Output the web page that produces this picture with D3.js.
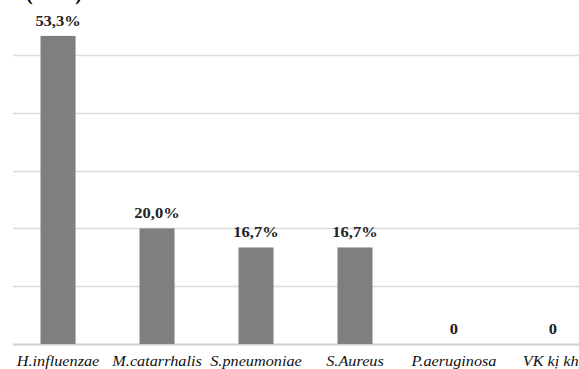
<!DOCTYPE html>
<html><head><meta charset="utf-8">
<script src="https://cdn.jsdelivr.net/npm/d3@7"></script>
<style>
html,body{margin:0;padding:0;background:#fff;overflow:hidden;}
svg{display:block;}
</style></head>
<body>
<svg id="chart" width="579" height="369"></svg>
<script>
const categories = ["H.influenzae","M.catarrhalis","S.pneumoniae","S.Aureus","P.aeruginosa","VK kị khí"];
const values = [53.3, 20.0, 16.7, 16.7, 0, 0];
const valueLabels = ["53,3%","20,0%","16,7%","16,7%","0","0"];
const gridTicks = [0,10,20,30,40,50];
const titleFragment = "(n=30).";

const FONT = '"Liberation Serif","Times New Roman",Times,serif';
const svg = d3.select("#chart");
const x = d3.scaleBand().domain(categories).range([13, 598]).paddingInner(0.646).paddingOuter(0.278);
const y = d3.scaleLinear().domain([0, 60]).range([344, -2.8]);

// title fragment cut off at top
svg.append("text").attr("x", 26).attr("y", 0)
  .style("font-family", FONT).style("font-weight","bold").attr("font-size",20)
  .attr("fill","#000").text(titleFragment);

// gridlines
svg.append("g").selectAll("line").data(gridTicks).join("line")
  .attr("x1", 13).attr("x2", 579)
  .attr("y1", d => Math.round(y(d)) + 0.5).attr("y2", d => Math.round(y(d)) + 0.5)
  .attr("stroke", d => d === 0 ? "#d0d0d0" : "#dcdcdc").attr("stroke-width", d => d===0?2:1.5);

// bars
svg.append("g").selectAll("rect").data(values).join("rect")
  .attr("x", (d,i) => x(categories[i]))
  .attr("width", x.bandwidth())
  .attr("y", d => y(d))
  .attr("height", d => y(0) - y(d))
  .attr("fill", "#7f7f7f");

// value labels
svg.append("g").selectAll("text").data(values).join("text")
  .attr("transform", (d,i) => `translate(${x(categories[i]) + x.bandwidth()/2},${y(d) - 10}) scale(1.1,1)`)
  .attr("text-anchor","middle")
  .style("font-family", FONT).style("font-weight","bold").attr("font-size",15)
  .attr("fill","#222")
  .text((d,i) => valueLabels[i]);

// x axis labels
const xAxis = d3.axisBottom(x).tickSize(0).tickPadding(0);
const gx = svg.append("g").call(xAxis);
gx.select(".domain").remove();
gx.selectAll(".tick text")
  .attr("y", 0).attr("dy", 0)
  .attr("transform", "translate(0,366) scale(1.16,1)")
  .style("font-family", FONT).style("font-style","italic").attr("font-size",14)
  .attr("fill","#111");
</script>
</body></html>
